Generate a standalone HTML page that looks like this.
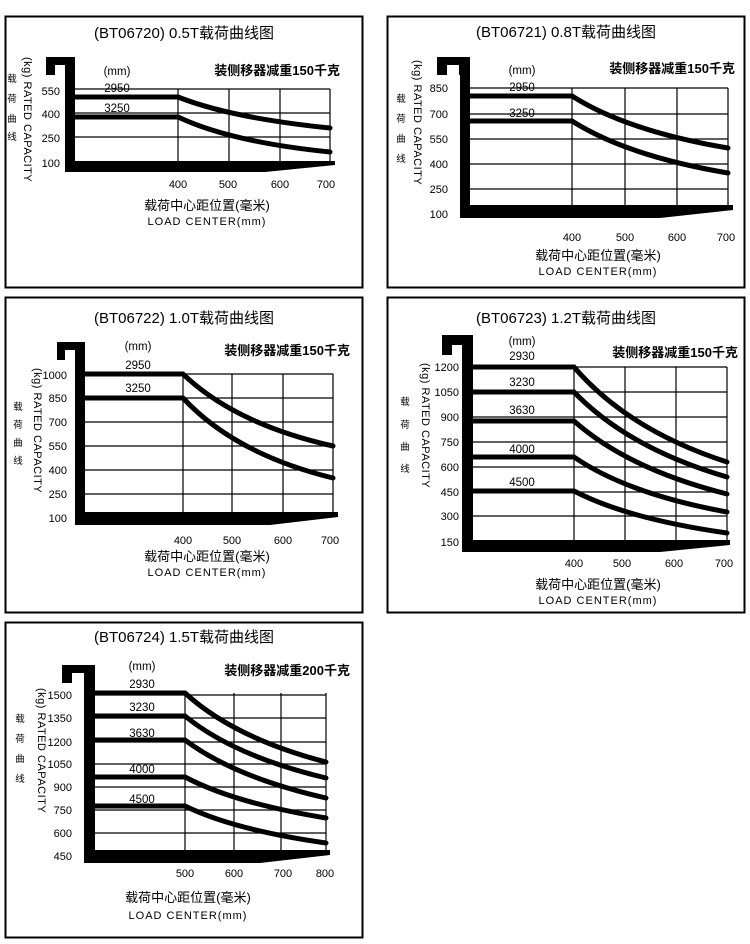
<!DOCTYPE html>
<html><head><meta charset="utf-8"><style>
html,body{margin:0;padding:0;background:#fff}
svg{display:block}
text{font-family:"Liberation Sans","Noto Sans CJK SC",sans-serif;fill:#000}
.t{font-size:15px;text-anchor:middle}
.k{font-size:11px;text-anchor:end}
.x{font-size:11px;text-anchor:middle}
.s{font-size:11.5px;text-anchor:middle}
.n{font-size:13px;text-anchor:end;font-weight:bold}
.c{font-size:13px;text-anchor:middle}
.e{font-size:11px;text-anchor:middle;letter-spacing:1px}
.r{font-size:11px;letter-spacing:0.5px}
.v{font-size:9.5px;text-anchor:middle}
.g{stroke:#000;stroke-width:1.2;fill:none}
.cv{stroke:#000;stroke-width:5;fill:none;stroke-linecap:round}
.b{fill:none;stroke:#000;stroke-width:2}
</style></head><body>
<svg width="750" height="944" viewBox="0 0 750 944" xmlns="http://www.w3.org/2000/svg">
<rect width="750" height="944" fill="#fff"/>

<!-- Panel 1 -->
<rect class="b" x="5.5" y="16.5" width="357" height="271"/>
<text class="t" x="184" y="38">(BT06720) 0.5T载荷曲线图</text>
<rect x="46" y="57" width="29" height="18"/><rect x="55" y="65" width="10" height="10" fill="#fff"/>
<rect x="65" y="57" width="10" height="115"/>
<polygon points="65,161 335,161 335,165 265,172 65,172"/>
<path class="g" d="M75,89H330M75,113H330M75,137H330M178,89V162M229,89V162M280,89V162M330,89V162"/>
<path class="cv" d="M75,97H178Q231,118 330,128"/>
<path class="cv" d="M75,117H178Q231,142 330,152"/>
<text class="s" x="117" y="75">(mm)</text><text class="s" x="117" y="92">2950</text><text class="s" x="117" y="112">3250</text>
<text class="n" x="340" y="75">装侧移器减重150千克</text>
<text class="k" x="60" y="95">550</text><text class="k" x="60" y="118">400</text><text class="k" x="60" y="142">250</text><text class="k" x="60" y="167">100</text>
<text class="x" x="178" y="188">400</text><text class="x" x="228" y="188">500</text><text class="x" x="280" y="188">600</text><text class="x" x="326" y="188">700</text>
<text class="c" x="207" y="210">载荷中心距位置(毫米)</text><text class="e" x="207" y="225">LOAD CENTER(mm)</text>
<text class="r" transform="translate(24,57) rotate(90)">(kg) RATED CAPACITY</text>
<text class="v" x="12" y="82">载</text><text class="v" x="12" y="102">荷</text><text class="v" x="12" y="122">曲</text><text class="v" x="12" y="140">线</text>

<!-- Panel 2 -->
<rect class="b" x="387.5" y="16.5" width="357" height="271"/>
<text class="t" x="566" y="37">(BT06721) 0.8T载荷曲线图</text>
<rect x="437" y="57" width="33" height="18"/><rect x="447" y="65" width="12" height="10" fill="#fff"/>
<rect x="460" y="57" width="10" height="161"/>
<polygon points="460,205 733,205 733,210 660,218 460,218"/>
<path class="g" d="M470,88H728M470,114H728M470,139H728M470,164H728M470,189H728M572,88V205M625,88V205M677,88V205M728,88V205"/>
<path class="cv" d="M470,96H572Q627,131 728,148"/>
<path class="cv" d="M470,121H572Q627,156 728,173"/>
<text class="s" x="522" y="74">(mm)</text><text class="s" x="522" y="91">2950</text><text class="s" x="522" y="117">3250</text>
<text class="n" x="735" y="73">装侧移器减重150千克</text>
<text class="k" x="448" y="92">850</text><text class="k" x="448" y="118">700</text><text class="k" x="448" y="143">550</text><text class="k" x="448" y="168">400</text><text class="k" x="448" y="193">250</text><text class="k" x="448" y="218">100</text>
<text class="x" x="572" y="241">400</text><text class="x" x="625" y="241">500</text><text class="x" x="677" y="241">600</text><text class="x" x="726" y="241">700</text>
<text class="c" x="598" y="260">载荷中心距位置(毫米)</text><text class="e" x="598" y="275">LOAD CENTER(mm)</text>
<text class="r" transform="translate(414,60) rotate(90)">(kg) RATED CAPACITY</text>
<text class="v" x="401" y="102">载</text><text class="v" x="401" y="122">荷</text><text class="v" x="401" y="142">曲</text><text class="v" x="401" y="162">线</text>

<!-- Panel 3 -->
<rect class="b" x="5.5" y="297.5" width="357" height="315"/>
<text class="t" x="184" y="323">(BT06722) 1.0T载荷曲线图</text>
<rect x="57" y="342" width="28" height="18"/><rect x="65" y="350" width="10" height="10" fill="#fff"/>
<rect x="75" y="342" width="10" height="183"/>
<polygon points="75,512 338,512 338,517 270,525 75,525"/>
<path class="g" d="M85,374H333M85,398H333M85,422H333M85,446H333M85,470H333M85,494H333M183,374V512M232,374V512M283,374V512M333,374V512"/>
<path class="cv" d="M85,374H183Q235,424 333,446"/>
<path class="cv" d="M85,398H183Q235,454 333,478"/>
<text class="s" x="138" y="350">(mm)</text><text class="s" x="138" y="369">2950</text><text class="s" x="138" y="392">3250</text>
<text class="n" x="350" y="355">装侧移器减重150千克</text>
<text class="k" x="67" y="379">1000</text><text class="k" x="67" y="402">850</text><text class="k" x="67" y="426">700</text><text class="k" x="67" y="450">550</text><text class="k" x="67" y="474">400</text><text class="k" x="67" y="498">250</text><text class="k" x="67" y="522">100</text>
<text class="x" x="183" y="544">400</text><text class="x" x="232" y="544">500</text><text class="x" x="283" y="544">600</text><text class="x" x="330" y="544">700</text>
<text class="c" x="207" y="561">载荷中心距位置(毫米)</text><text class="e" x="207" y="576">LOAD CENTER(mm)</text>
<text class="r" transform="translate(34,368) rotate(90)">(kg) RATED CAPACITY</text>
<text class="v" x="18" y="410">载</text><text class="v" x="18" y="428">荷</text><text class="v" x="18" y="446">曲</text><text class="v" x="18" y="464">线</text>

<!-- Panel 4 -->
<rect class="b" x="387.5" y="297.5" width="357" height="315"/>
<text class="t" x="566" y="323">(BT06723) 1.2T载荷曲线图</text>
<rect x="442" y="335" width="31" height="20"/><rect x="452" y="345" width="10" height="10" fill="#fff"/>
<rect x="462" y="335" width="11" height="217"/>
<polygon points="462,540 730,540 730,545 660,552 462,552"/>
<path class="g" d="M473,367H727M473,392H727M473,417H727M473,442H727M473,467H727M473,492H727M473,516H727M574,367V540M625,367V540M676,367V540M727,367V540"/>
<path class="cv" d="M473,367H574Q628,430 727,462"/>
<path class="cv" d="M473,392H574Q628,448 727,477"/>
<path class="cv" d="M473,421H574Q628,469 727,494"/>
<path class="cv" d="M473,457H574Q628,494 727,512"/>
<path class="cv" d="M473,491H574Q628,519 727,533"/>
<text class="s" x="522" y="345">(mm)</text><text class="s" x="522" y="360">2930</text><text class="s" x="522" y="386">3230</text><text class="s" x="522" y="414">3630</text><text class="s" x="522" y="453">4000</text><text class="s" x="522" y="486">4500</text>
<text class="n" x="738" y="357">装侧移器减重150千克</text>
<text class="k" x="459" y="371">1200</text><text class="k" x="459" y="396">1050</text><text class="k" x="459" y="421">900</text><text class="k" x="459" y="446">750</text><text class="k" x="459" y="471">600</text><text class="k" x="459" y="496">450</text><text class="k" x="459" y="520">300</text><text class="k" x="459" y="546">150</text>
<text class="x" x="574" y="567">400</text><text class="x" x="622" y="567">500</text><text class="x" x="674" y="567">600</text><text class="x" x="724" y="567">700</text>
<text class="c" x="598" y="589">载荷中心距位置(毫米)</text><text class="e" x="598" y="604">LOAD CENTER(mm)</text>
<text class="r" transform="translate(422,363) rotate(90)">(kg)   RATED CAPACITY</text>
<text class="v" x="405" y="405">载</text><text class="v" x="405" y="428">荷</text><text class="v" x="405" y="450">曲</text><text class="v" x="405" y="472">线</text>

<!-- Panel 5 -->
<rect class="b" x="5.5" y="622.5" width="357" height="315"/>
<text class="t" x="184" y="642">(BT06724) 1.5T载荷曲线图</text>
<rect x="62" y="665" width="33" height="18"/><rect x="72" y="673" width="12" height="10" fill="#fff"/>
<rect x="84" y="665" width="11" height="198"/>
<polygon points="84,850 330,850 330,855 260,863 84,863"/>
<path class="g" d="M95,695H326M95,718H326M95,742H326M95,764H326M95,787H326M95,810H326M95,833H326M185,693V850M234,693V850M281,693V850M326,693V850"/>
<path class="cv" d="M95,693H185Q234,738 326,762"/>
<path class="cv" d="M95,716H185Q234,756 326,778"/>
<path class="cv" d="M95,740H185Q234,777 326,798"/>
<path class="cv" d="M95,777H185Q234,803 326,818"/>
<path class="cv" d="M95,806H185Q234,830 326,843"/>
<text class="s" x="142" y="670">(mm)</text><text class="s" x="142" y="688">2930</text><text class="s" x="142" y="711">3230</text><text class="s" x="142" y="737">3630</text><text class="s" x="142" y="773">4000</text><text class="s" x="142" y="803">4500</text>
<text class="n" x="350" y="675">装侧移器减重200千克</text>
<text class="k" x="72" y="699">1500</text><text class="k" x="72" y="722">1350</text><text class="k" x="72" y="746">1200</text><text class="k" x="72" y="768">1050</text><text class="k" x="72" y="791">900</text><text class="k" x="72" y="814">750</text><text class="k" x="72" y="837">600</text><text class="k" x="72" y="860">450</text>
<text class="x" x="185" y="877">500</text><text class="x" x="234" y="877">600</text><text class="x" x="283" y="877">700</text><text class="x" x="325" y="877">800</text>
<text class="c" x="188" y="902">载荷中心距位置(毫米)</text><text class="e" x="188" y="919">LOAD CENTER(mm)</text>
<text class="r" transform="translate(38,688) rotate(90)">(kg) RATED CAPACITY</text>
<text class="v" x="20" y="722">载</text><text class="v" x="20" y="742">荷</text><text class="v" x="20" y="762">曲</text><text class="v" x="20" y="782">线</text>
</svg>
</body></html>
